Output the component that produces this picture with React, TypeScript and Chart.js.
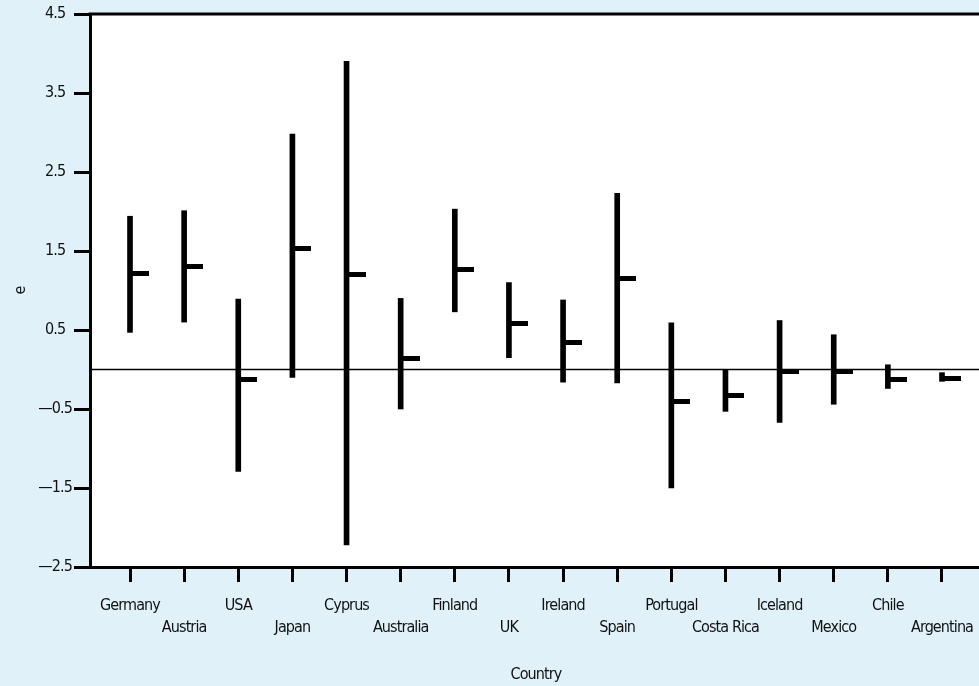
import { useEffect, useRef } from "react";
import { Chart, registerables } from "chart.js";

Chart.register(...registerables);

const countries = ["Germany", "Austria", "USA", "Japan", "Cyprus", "Australia", "Finland", "UK", "Ireland", "Spain", "Portugal", "Costa Rica", "Iceland", "Mexico", "Chile", "Argentina"];
const highValues = [1.94, 2.01, 0.89, 2.98, 3.9, 0.9, 2.03, 1.1, 0.88, 2.23, 0.59, 0.0, 0.62, 0.44, 0.06, -0.04];
const lowValues = [0.47, 0.6, -1.29, -0.1, -2.22, -0.5, 0.73, 0.15, -0.16, -0.17, -1.5, -0.53, -0.67, -0.44, -0.24, -0.15];
const meanValues = [1.21, 1.3, -0.13, 1.53, 1.2, 0.14, 1.27, 0.58, 0.34, 1.15, -0.4, -0.33, -0.02, -0.02, -0.13, -0.11];
const yTicks = [-2.5, -1.5, -0.5, 0.5, 1.5, 2.5, 3.5, 4.5];
const referenceValue = 0;

const FONT = '"Liberation Sans Narrow", "DejaVu Sans Condensed", "Arial Narrow", sans-serif';
const BG = "#e0f1f9";
const SPACING = "-0.9px";

export default function App() {
  const ref = useRef<HTMLCanvasElement | null>(null);

  useEffect(() => {
    document.body.style.margin = "0";
    const canvas = ref.current;
    if (!canvas) return;

    const stub = document.createElement("canvas");
    stub.width = 38;
    stub.height = 5;
    const sctx = stub.getContext("2d")!;
    sctx.fillStyle = "#000";
    sctx.fillRect(19, 0, 19, 5);

    const bgPlugin = {
      id: "bgPlugin",
      beforeInit(chart: any) {
        (chart.ctx as any).letterSpacing = SPACING;
      },
      beforeLayout(chart: any) {
        (chart.ctx as any).letterSpacing = SPACING;
      },
      beforeDraw(chart: any) {
        const { ctx, chartArea } = chart;
        (ctx as any).letterSpacing = SPACING;
        ctx.save();
        ctx.fillStyle = BG;
        ctx.fillRect(0, 0, chart.width, chart.height);
        ctx.fillStyle = "#fff";
        ctx.fillRect(chartArea.left, chartArea.top, chartArea.right - chartArea.left, chartArea.bottom - chartArea.top);
        ctx.restore();
      },
      beforeDatasetsDraw(chart: any) {
        const { ctx, chartArea, scales } = chart;
        const y = scales.y.getPixelForValue(referenceValue);
        ctx.save();
        ctx.strokeStyle = "#000";
        ctx.lineWidth = 1.3;
        ctx.beginPath();
        ctx.moveTo(chartArea.left, y);
        ctx.lineTo(chartArea.right, y);
        ctx.stroke();
        ctx.restore();
      },
      afterDraw(chart: any) {
        const { ctx, chartArea } = chart;
        ctx.save();
        ctx.strokeStyle = "#000";
        ctx.lineWidth = 3;
        ctx.beginPath();
        ctx.moveTo(chartArea.left - 1.5, chartArea.top);
        ctx.lineTo(chartArea.right, chartArea.top);
        ctx.stroke();
        ctx.restore();
      },
    };

    const chart = new Chart(canvas, {
      type: "bar",
      data: {
        datasets: [
          {
            type: "bar",
            label: "range",
            data: countries.map((_, i) => ({ x: i, y: [lowValues[i], highValues[i]] })) as any,
            backgroundColor: "#000",
            borderWidth: 0,
            barThickness: 5,
            grouped: false,
          } as any,
          {
            type: "scatter",
            label: "mean",
            data: countries.map((_, i) => ({ x: i, y: meanValues[i] })),
            pointStyle: stub as any,
            pointRadius: 3,
            showLine: false,
          } as any,
        ],
      },
      options: {
        responsive: false,
        animation: false,
        layout: { padding: { top: 14, right: 8, left: 0, bottom: 0 } },
        plugins: { legend: { display: false }, tooltip: { enabled: false } },
        scales: {
          x: {
            type: "linear",
            offset: false,
            min: -0.739,
            max: 15.739,
            afterBuildTicks(scale: any) {
              scale.ticks = countries.map((_, i) => ({ value: i }));
            },
            afterFit(scale: any) {
              scale.height = 119;
            },
            grid: { offset: false, drawOnChartArea: false, drawTicks: true, tickLength: 15, tickWidth: 3, tickColor: "#000" },
            border: { display: true, color: "#000", width: 3 },
            ticks: {
              autoSkip: false,
              maxRotation: 0,
              padding: 13,
              color: "#111",
              font: { family: FONT, size: 16, lineHeight: "22px" },
              callback: (v: any) => {
                const i = Math.round(Number(v));
                const name = countries[i] ?? "";
                return i % 2 === 0 ? [name, ""] : ["", name];
              },
            },
            title: { display: true, text: "Country", color: "#111", font: { family: FONT, size: 16 }, padding: { top: 0, bottom: 2 } },
          },
          y: {
            type: "linear",
            min: -2.5,
            max: 4.5,
            afterBuildTicks(scale: any) {
              scale.ticks = yTicks.map((v) => ({ value: v }));
            },
            afterFit(scale: any) {
              scale.width = 90;
            },
            grid: { drawOnChartArea: false, drawTicks: true, tickLength: 16, tickWidth: 3, tickColor: "#000" },
            border: { display: true, color: "#000", width: 3 },
            ticks: {
              crossAlign: "center",
              padding: 2,
              color: "#111",
              font: { family: FONT, size: 16 },
              callback: (v: any) => {
                const n = Number(v);
                return n < 0 ? "\u2014" + Math.abs(n).toFixed(1) : n.toFixed(1);
              },
            },
            title: { display: true, text: "e", color: "#111", font: { family: FONT, size: 16 }, padding: { top: 11, bottom: 0 } },
          },
        },
      },
      plugins: [bgPlugin],
    });

    return () => chart.destroy();
  }, []);

  return (
    <div style={{ width: 979, height: 686, overflow: "hidden", background: BG }}>
      <canvas ref={ref} width={990} height={686} style={{ display: "block", width: 990, height: 686 }} />
    </div>
  );
}
